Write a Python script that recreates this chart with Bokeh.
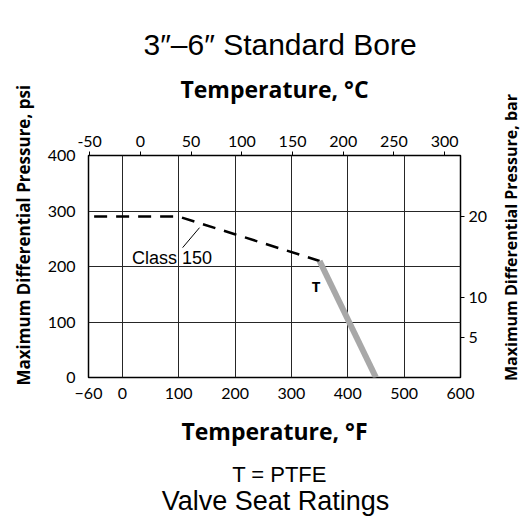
import math
from bokeh.plotting import figure
from bokeh.layouts import row, column
from bokeh.models import Range1d, LinearAxis, FixedTicker, Label, Title
from bokeh.core.properties import value
from bokeh.embed import file_html
from bokeh.resources import INLINE

# ---- data ----
class150_temp_f = [-50, 100, 350]
class150_psi = [290, 290, 210]
ptfe_temp_f = [350, 450]
ptfe_psi = [210, 0]
leader_temp_f = [137, 107]
leader_psi = [270, 234]

f_ticks = [-60, 0, 100, 200, 300, 400, 500, 600]
f_grid = [0, 100, 200, 300, 400, 500]
psi_ticks = [0, 100, 200, 300, 400]
psi_grid = [100, 200, 300]
c_ticks = [-50, 0, 50, 100, 150, 200, 250, 300]
bar_ticks = [5, 10, 20]

X0, X1 = -60, 600
Y0, Y1 = 0, 400
PSI_PER_BAR = 14.5038

PAGE_W, PAGE_H = 522, 516
W2 = 22                      # narrow strip carrying the right-hand title
H3 = 61                      # strip under the chart carrying the captions
W, H = PAGE_W - W2, PAGE_H - H3
L, T = 85, 155
FW, FH = 375, 222
R, B = W - L - FW, H - T - FH

p = figure(width=W, height=H, x_range=Range1d(X0, X1), y_range=Range1d(Y0, Y1),
           output_backend="svg", toolbar_location=None,
           min_border_left=L, min_border_right=R, min_border_top=T, min_border_bottom=B,
           title="3\u2033\u20136\u2033 Standard Bore")
p.extra_x_ranges = {"c": Range1d((X0 - 32) / 1.8, (X1 - 32) / 1.8)}
p.extra_y_ranges = {"bar": Range1d(Y0 / PSI_PER_BAR, Y1 / PSI_PER_BAR)}

p.background_fill_color = "white"
p.border_fill_color = "white"
p.outline_line_color = "black"
p.outline_line_width = 1.5

p.title.align = "left"
p.title.offset = 55
p.title.text_font = "Liberation Sans"
p.title.text_font_size = "30px"
p.title.text_font_style = "normal"
p.title.text_color = "black"
p.title.standoff = 18

TICK_FONT = "Lato"
TITLE_FONT = "Open Sans"


def style_axis(a, ticks, tick_out, standoff, size, label=None, label_standoff=0, label_size="16px"):
    a.ticker = FixedTicker(ticks=ticks)
    a.major_tick_in = 0
    a.major_tick_out = tick_out
    a.major_tick_line_color = "black" if tick_out else None
    a.minor_tick_line_color = None
    a.axis_line_color = None
    a.major_label_standoff = standoff
    a.major_label_text_font = TICK_FONT
    a.major_label_text_font_size = size
    a.major_label_text_color = "black"
    if label:
        a.axis_label = label
        a.axis_label_standoff = label_standoff
        a.axis_label_text_font = TITLE_FONT
        a.axis_label_text_font_style = "bold"
        a.axis_label_text_font_size = label_size
        a.axis_label_text_color = "black"


# bottom axis (Fahrenheit)
ax = p.xaxis[0]
style_axis(ax, f_ticks, 0, 10, "16px", "Temperature, \u00b0F", 13, "23px")
ax.major_label_overrides = {-60: "\u221260"}

# left axis (psi)
ay = p.yaxis[0]
style_axis(ay, psi_ticks, 0, 13, "16px")

# top axis (Celsius)
atop = LinearAxis(x_range_name="c")
style_axis(atop, c_ticks, 4, 5, "16px", "Temperature, \u00b0C", 28, "23px")
atop.major_label_overrides = {-50: "-50"}
p.add_layout(atop, "above")

# right axis (bar)
aright = LinearAxis(y_range_name="bar")
style_axis(aright, bar_ticks, 4, 4, "16px")
p.add_layout(aright, "right")

# left title
left_title = Title(text="Maximum Differential Pressure, psi", align="left", offset=-8,
                   text_font=TITLE_FONT, text_font_style="bold", text_font_size="17px",
                   text_color="black", standoff=19)
p.add_layout(left_title, "left")

# grid
p.xgrid.ticker = FixedTicker(ticks=f_grid)
p.ygrid.ticker = FixedTicker(ticks=psi_grid)
for g in (p.xgrid[0], p.ygrid[0]):
    g.grid_line_color = "#262626"
    g.grid_line_width = 1
    g.grid_line_alpha = 1

# series
p.line(class150_temp_f, class150_psi, line_color="black", line_width=2.5, line_dash="13 9")
p.line(ptfe_temp_f, ptfe_psi, line_color="#a8a8a8", line_width=6)
p.line(leader_temp_f, leader_psi, line_color="black", line_width=1)

p.add_layout(Label(x=17, y=216, text="Class 150", text_font="Liberation Sans",
                   text_font_size="18px", text_align="left", text_baseline="middle",
                   text_color="black"))
p.add_layout(Label(x=344, y=164, text="T", text_font=TITLE_FONT, text_font_style="bold",
                   text_font_size="15px", text_align="center", text_baseline="middle",
                   text_color="black"))


def strip(width, height):
    s = figure(width=width, height=height, x_range=Range1d(0, width), y_range=Range1d(0, height),
               output_backend="svg", toolbar_location=None, min_border=0,
               x_axis_type=None, y_axis_type=None)
    s.outline_line_color = None
    s.background_fill_color = "white"
    s.border_fill_color = "white"
    s.xgrid.visible = False
    s.ygrid.visible = False
    return s


# right-hand title strip (reads bottom to top, like the left one)
p2 = strip(W2, H)
p2.text(x=[10], y=[H - 237], text=["Maximum Differential Pressure, bar"], angle=math.pi / 2,
        text_align="center", text_baseline="middle", text_font=value(TITLE_FONT),
        text_font_style="bold", text_font_size="16px", text_color="black")

# caption strip under the chart (page y 455..516)
p3 = strip(PAGE_W, H3)
p3.text(x=[279], y=[PAGE_H - 474], text=["T = PTFE"], text_align="center",
        text_baseline="middle", text_font=value("Liberation Sans"),
        text_font_size="22px", text_color="black")
p3.text(x=[275], y=[PAGE_H - 500], text=["Valve Seat Ratings"], text_align="center",
        text_baseline="middle", text_font=value("Liberation Sans"),
        text_font_size="27px", text_color="black")

for fig in (p, p2, p3):
    try:
        fig.frame_align = False
    except Exception:
        pass

open("out.html", "w").write(file_html(column(row(p, p2), p3), INLINE))
